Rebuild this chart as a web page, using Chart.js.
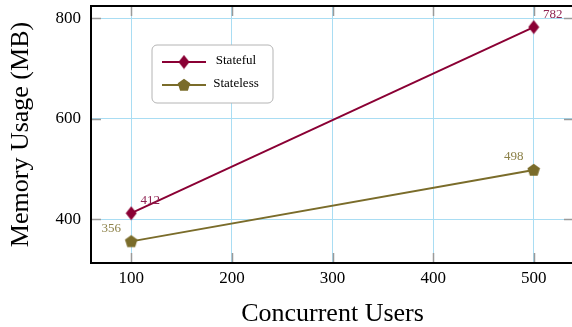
<!DOCTYPE html>
<html>
<head>
<meta charset="utf-8">
<script src="https://cdn.jsdelivr.net/npm/chart.js@4/dist/chart.umd.min.js"></script>
<style>
  html, body { margin: 0; padding: 0; background: #fff; overflow: hidden; }
  #wrap { width: 580px; height: 327px; }
</style>
</head>
<body>
<div id="wrap"><canvas id="c" width="580" height="327"></canvas></div>
<script>
// Memory usage measured at each load level
const users = [100, 500];
const statefulMB = [412, 782];
const statelessMB = [356, 498];
const seriesNames = ['Stateful', 'Stateless'];
const xTicks = [100, 200, 300, 400, 500];
const yTicks = [400, 600, 800];

const SERIF = '"Liberation Serif", "Times New Roman", serif';
const RED = '#8a0034';
const OLIVE = '#7a6c2a';
const RED_LABEL = '#8f2352';
const OLIVE_LABEL = '#8c8148';
const GRID = '#a9ddf3';

// Marker sprites: narrow diamond and filled pentagon
function diamondSprite(color) {
  const c = document.createElement('canvas');
  c.width = 12; c.height = 15;
  const g = c.getContext('2d');
  g.fillStyle = color;
  g.beginPath();
  g.moveTo(6, 0.5); g.lineTo(11.5, 7.5); g.lineTo(6, 14.5); g.lineTo(0.5, 7.5);
  g.closePath(); g.fill();
  return c;
}
function pentagonSprite(color) {
  const c = document.createElement('canvas');
  c.width = 14; c.height = 14;
  const g = c.getContext('2d');
  g.fillStyle = color;
  g.beginPath();
  const r = 6.6, cx = 7, cy = 7.4;
  for (let i = 0; i < 5; i++) {
    const a = -Math.PI / 2 + i * 2 * Math.PI / 5;
    const px = cx + r * Math.cos(a), py = cy + r * Math.sin(a);
    if (i === 0) g.moveTo(px, py); else g.lineTo(px, py);
  }
  g.closePath(); g.fill();
  return c;
}
const diamond = diamondSprite(RED);
const pentagon = pentagonSprite(OLIVE);

const toPoints = (xs, ys) => xs.map((x, i) => ({ x: x, y: ys[i] }));

// Frame, inner tick marks, legend box and value labels
const decorations = {
  id: 'decorations',
  beforeDatasetsDraw(chart) {
    const { ctx, chartArea: a, scales } = chart;
    ctx.save();
    ctx.strokeStyle = '#9a9a9a';
    ctx.lineWidth = 1.5;
    ctx.beginPath();
    xTicks.forEach(v => {
      const x = Math.round(scales.x.getPixelForValue(v)) + 0.5;
      ctx.moveTo(x, a.bottom); ctx.lineTo(x, a.bottom - 10);
      ctx.moveTo(x, a.top); ctx.lineTo(x, a.top + 10);
    });
    yTicks.forEach(v => {
      const y = Math.round(scales.y.getPixelForValue(v)) + 0.5;
      ctx.moveTo(a.left, y); ctx.lineTo(a.left + 10, y);
      ctx.moveTo(a.right, y); ctx.lineTo(a.right - 10, y);
    });
    ctx.stroke();
    ctx.restore();
  },
  afterDatasetsDraw(chart) {
    const { ctx, chartArea: a } = chart;
    ctx.save();
    // axis frame
    ctx.strokeStyle = '#000';
    ctx.lineWidth = 2;
    ctx.strokeRect(a.left, a.top, a.right - a.left, a.bottom - a.top);

    // value labels
    ctx.font = '13px ' + SERIF;
    ctx.textAlign = 'center';
    ctx.textBaseline = 'middle';
    const labelStyle = [
      { color: RED_LABEL, dx: 19, dy: -13 },
      { color: OLIVE_LABEL, dx: -20, dy: -13 }
    ];
    chart.data.datasets.forEach((ds, di) => {
      const meta = chart.getDatasetMeta(di);
      const s = labelStyle[di];
      ctx.fillStyle = s.color;
      meta.data.forEach((pt, i) => {
        ctx.fillText(String(ds.data[i].y), pt.x + s.dx, pt.y + s.dy);
      });
    });

    // legend
    const lx = a.left + 61, ly = a.top + 39, lw = 121, lh = 58, r = 5;
    ctx.beginPath();
    ctx.moveTo(lx + r, ly);
    ctx.arcTo(lx + lw, ly, lx + lw, ly + lh, r);
    ctx.arcTo(lx + lw, ly + lh, lx, ly + lh, r);
    ctx.arcTo(lx, ly + lh, lx, ly, r);
    ctx.arcTo(lx, ly, lx + lw, ly, r);
    ctx.closePath();
    ctx.fillStyle = '#fff';
    ctx.fill();
    ctx.strokeStyle = '#b4b4b4';
    ctx.lineWidth = 1;
    ctx.stroke();
    chart.data.datasets.forEach((ds, di) => {
      const y = ly + 17 + di * 23;
      ctx.strokeStyle = ds.borderColor;
      ctx.lineWidth = 2;
      ctx.beginPath();
      ctx.moveTo(lx + 10, y); ctx.lineTo(lx + 54, y);
      ctx.stroke();
      const img = ds.pointStyle;
      ctx.drawImage(img, lx + 32 - img.width / 2, y - img.height / 2);
      ctx.fillStyle = '#000';
      ctx.font = '13px ' + SERIF;
      ctx.textAlign = 'center';
      ctx.fillText(ds.label, lx + 84, y - 1);
    });
    ctx.restore();
  }
};

new Chart(document.getElementById('c'), {
  type: 'line',
  data: {
    datasets: [
      {
        label: seriesNames[0],
        data: toPoints(users, statefulMB),
        borderColor: RED,
        backgroundColor: RED,
        borderWidth: 2,
        pointStyle: diamond,
        tension: 0
      },
      {
        label: seriesNames[1],
        data: toPoints(users, statelessMB),
        borderColor: OLIVE,
        backgroundColor: OLIVE,
        borderWidth: 2,
        pointStyle: pentagon,
        tension: 0
      }
    ]
  },
  options: {
    responsive: false,
    animation: false,
    devicePixelRatio: 1,
    layout: { padding: { top: 5, right: 4, bottom: 0, left: 0 } },
    plugins: { legend: { display: false }, tooltip: { enabled: false } },
    scales: {
      x: {
        type: 'linear',
        min: 60,
        max: 540,
        afterBuildTicks: s => { s.ticks = xTicks.map(v => ({ value: v })); },
        afterFit: s => { s.height = 64; s.paddingLeft = 0; s.paddingRight = 0; },
        grid: { color: GRID, lineWidth: 1, drawTicks: false },
        border: { display: false },
        ticks: { color: '#000', font: { family: SERIF, size: 17 }, padding: 5 },
        title: {
          display: true, text: 'Concurrent Users', color: '#000',
          font: { family: SERIF, size: 26 }, padding: { top: 0, bottom: -3 }
        }
      },
      y: {
        type: 'linear',
        min: 313,
        max: 824,
        afterBuildTicks: s => { s.ticks = yTicks.map(v => ({ value: v })); },
        afterFit: s => { s.width = 91; s.paddingTop = 0; s.paddingBottom = 0; },
        grid: { color: GRID, lineWidth: 1, drawTicks: false },
        border: { display: false },
        ticks: { color: '#000', font: { family: SERIF, size: 17 }, padding: 10 },
        title: {
          display: true, text: 'Memory Usage (MB)', color: '#000',
          font: { family: SERIF, size: 26 }, padding: { top: 6, bottom: 0 }
        }
      }
    }
  },
  plugins: [decorations]
});
</script>
</body>
</html>
